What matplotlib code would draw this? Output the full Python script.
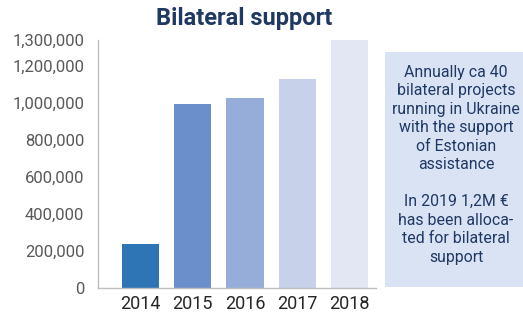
import matplotlib
matplotlib.use("Agg")
import matplotlib.pyplot as plt
from matplotlib.patches import Rectangle

years = ["2014", "2015", "2016", "2017", "2018"]
values = [238000, 995000, 1027000, 1130000, 1340000]
bar_colors = ["#2E75B6", "#6B8FCB", "#95ADD8", "#C7D1EA", "#E3E7F3"]
ytick_vals = [0, 200000, 400000, 600000, 800000, 1000000, 1200000, 1340000]
ytick_labels = ["0", "200,000", "400,000", "600,000", "800,000", "1,000,000", "1,200,000", "1,300,000"]
title = "Bilateral support"
note_lines = ["Annually ca 40", "bilateral projects", "running in Ukraine", "with the support",
              "of Estonian", "assistance", "", "In 2019 1,2M €", "has been alloca-",
              "ted for bilateral", "support"]

plt.rcParams['font.family'] = ['Roboto', 'DejaVu Sans']

W, H = 523, 315
fig = plt.figure(figsize=(W / 100, H / 100), dpi=100)
ax = fig.add_axes([98.3 / W, 1 - 288.3 / H, (376 - 98.3) / W, (288.3 - 40) / H])

x = list(range(len(years)))
ax.bar(x, values, width=0.71, color=bar_colors, zorder=2)
ax.set_xlim(-0.81, 4.51)
ax.set_ylim(0, 1340000)
ax.set_xticks(x)
ax.set_xticklabels(years, fontsize=13, color="#262626")
ax.set_yticks(ytick_vals)
ax.set_yticklabels(ytick_labels, fontsize=12, color="#595959")
ax.tick_params(axis='both', length=0)
ax.tick_params(axis='x', pad=5)
ax.tick_params(axis='y', pad=10)
for s in ["top", "right"]:
    ax.spines[s].set_visible(False)
for s in ["left", "bottom"]:
    ax.spines[s].set_color("#BFBFBF")
    ax.spines[s].set_linewidth(1.0)

fig.text(244.5 / W, 1 - 18 / H, title, ha='center', va='center', fontsize=17,
         fontweight='bold', color="#1F3864")

# note box
fig.patches.append(Rectangle((385 / W, 1 - 287 / H), 142 / W, (287 - 52) / H,
                             transform=fig.transFigure, facecolor="#DAE3F3",
                             edgecolor='none', zorder=0))
y0 = 72.3
step = 18.5
for i, line in enumerate(note_lines):
    if line:
        fig.text(456 / W, 1 - (y0 + i * step) / H, line, ha='center', va='center',
                 fontsize=11.4, color="#1F3864")

fig.savefig("out.png", dpi=100)
